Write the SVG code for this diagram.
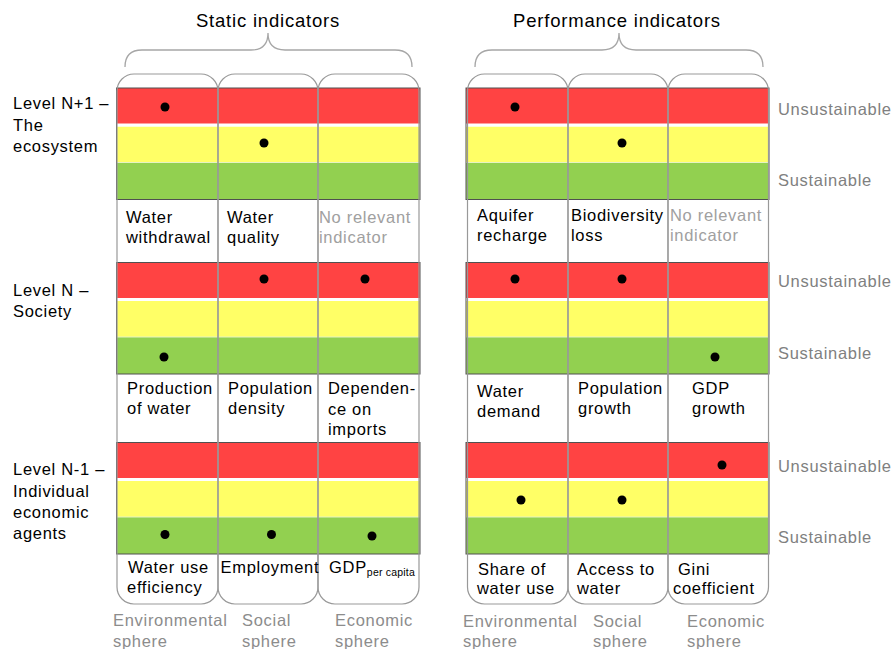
<svg xmlns="http://www.w3.org/2000/svg" width="896" height="649" viewBox="0 0 896 649">
<style>
text{font-family:"Liberation Sans",Arial,sans-serif;font-size:16.5px;letter-spacing:0.7px;fill:#000}
.title{font-size:18.5px;letter-spacing:0.8px;text-anchor:middle;fill:#000}
.na{fill:#a0a0a0}
.sus{fill:#808080}
.sph{fill:#8c8c8c}
.sub{font-size:10.5px;letter-spacing:0.2px}
.brace{fill:none;stroke:#a6a6a6;stroke-width:1.3}
.col{fill:none;stroke:#999;stroke-width:1.2}
.red{fill:#ff4343}
.yel{fill:#ffff66}
.grn{fill:#92d050}
.frame{fill:none;stroke:#505050;stroke-width:1}
.gap{stroke:#fff;stroke-width:3}
.gap2{stroke:#e4f2c4;stroke-width:1}
.dot{fill:#000}
</style>
<defs>
<g id="bandsL">
<rect class="red" x="116.5" y="0" width="303.5" height="36"/>
<rect class="yel" x="116.5" y="38.5" width="303.5" height="36"/>
<rect class="grn" x="116.5" y="74.5" width="303.5" height="37"/>
<line class="gap" x1="116.5" y1="37" x2="420" y2="37"/>
<line class="gap2" x1="116.5" y1="74.5" x2="420" y2="74.5"/>
<rect class="frame" x="116.5" y="0" width="303.5" height="111.5"/>
</g>
<g id="bandsR">
<rect class="red" x="466" y="0" width="303" height="36"/>
<rect class="yel" x="466" y="38.5" width="303" height="36"/>
<rect class="grn" x="466" y="74.5" width="303" height="37"/>
<line class="gap" x1="466" y1="37" x2="769" y2="37"/>
<line class="gap2" x1="466" y1="74.5" x2="769" y2="74.5"/>
<rect class="frame" x="466" y="0" width="303" height="111.5"/>
</g>
</defs>

<g id="titles">
<text class="title" x="268" y="27">Static indicators</text>
<text class="title" x="617" y="27">Performance indicators</text>
</g>

<g id="connectors">
<path class="brace" d="M125,67 Q125,50 142,50 L251,50 Q268,50 268,33 Q268,50 285,50 L395,50 Q412,50 412,67"/>
<path class="brace" d="M475,67 Q475,50 492,50 L602,50 Q619,50 619,33 Q619,50 636,50 L746,50 Q763,50 763,67"/>
</g>

<g id="bands">
<use href="#bandsL" y="88"/>
<use href="#bandsL" y="262.5"/>
<use href="#bandsL" y="442.5"/>
<use href="#bandsR" y="88"/>
<use href="#bandsR" y="262.5"/>
<use href="#bandsR" y="442.5"/>
</g>

<g id="columns">
<rect id="col-static-env" class="col" x="117" y="74" width="101" height="530" rx="17"/>
<rect id="col-static-soc" class="col" x="218" y="74" width="100" height="530" rx="17"/>
<rect id="col-static-eco" class="col" x="318" y="74" width="101" height="530" rx="17"/>
<rect id="col-perf-env" class="col" x="467.5" y="74" width="100.5" height="530" rx="17"/>
<rect id="col-perf-soc" class="col" x="568" y="74" width="100" height="530" rx="17"/>
<rect id="col-perf-eco" class="col" x="668" y="74" width="100.5" height="530" rx="17"/>
</g>

<g id="dots">
<circle class="dot" cx="165" cy="107" r="4.5"/>
<circle class="dot" cx="264" cy="143" r="4.5"/>
<circle class="dot" cx="515" cy="107" r="4.5"/>
<circle class="dot" cx="622" cy="143" r="4.5"/>
<circle class="dot" cx="264" cy="279" r="4.5"/>
<circle class="dot" cx="365" cy="279" r="4.5"/>
<circle class="dot" cx="164" cy="357" r="4.5"/>
<circle class="dot" cx="515" cy="279" r="4.5"/>
<circle class="dot" cx="622" cy="279" r="4.5"/>
<circle class="dot" cx="715" cy="357" r="4.5"/>
<circle class="dot" cx="165" cy="534.5" r="4.5"/>
<circle class="dot" cx="271.5" cy="534.5" r="4.5"/>
<circle class="dot" cx="372" cy="536" r="4.5"/>
<circle class="dot" cx="722" cy="465" r="4.5"/>
<circle class="dot" cx="521" cy="500" r="4.5"/>
<circle class="dot" cx="622" cy="500" r="4.5"/>
</g>

<g id="level-labels">
<text x="13" y="109">Level N+1 –</text>
<text x="13" y="131">The</text>
<text x="13" y="152">ecosystem</text>
<text x="13" y="296">Level N –</text>
<text x="13" y="317">Society</text>
<text x="13" y="475">Level N-1 –</text>
<text x="13" y="497">Individual</text>
<text x="13" y="518">economic</text>
<text x="13" y="539">agents</text>
</g>

<g id="scale-labels">
<text class="sus" x="778" y="115">Unsustainable</text>
<text class="sus" x="778" y="186">Sustainable</text>
<text class="sus" x="778" y="287">Unsustainable</text>
<text class="sus" x="778" y="359">Sustainable</text>
<text class="sus" x="778" y="472">Unsustainable</text>
<text class="sus" x="778" y="543">Sustainable</text>
</g>

<g id="indicators-level1">
<text x="126" y="223">Water</text>
<text x="126" y="243">withdrawal</text>
<text x="227" y="223">Water</text>
<text x="227" y="243">quality</text>
<text class="na" x="319" y="223">No relevant</text>
<text class="na" x="319" y="243">indicator</text>
<text x="477" y="221">Aquifer</text>
<text x="477" y="241">recharge</text>
<text x="571" y="221">Biodiversity</text>
<text x="571" y="241">loss</text>
<text class="na" x="670" y="221">No relevant</text>
<text class="na" x="670" y="241">indicator</text>
</g>

<g id="indicators-level2">
<text x="127" y="394">Production</text>
<text x="127" y="414">of water</text>
<text x="228" y="394">Population</text>
<text x="228" y="414">density</text>
<text x="328" y="394">Dependen-</text>
<text x="328" y="415">ce on</text>
<text x="328" y="435">imports</text>
<text x="477" y="397">Water</text>
<text x="477" y="417">demand</text>
<text x="578" y="394">Population</text>
<text x="578" y="414">growth</text>
<text x="692" y="394">GDP</text>
<text x="692" y="414">growth</text>
</g>

<g id="indicators-level3">
<text x="128" y="573">Water use</text>
<text x="127" y="593">efficiency</text>
<text x="220.5" y="573">Employment</text>
<text x="329" y="573">GDP<tspan class="sub" dy="3">per capita</tspan></text>
<text x="478" y="575">Share of</text>
<text x="477" y="594">water use</text>
<text x="577" y="575">Access to</text>
<text x="577" y="594">water</text>
<text x="678" y="575">Gini</text>
<text x="673" y="594">coefficient</text>
</g>

<g id="sphere-labels">
<text class="sph" x="113" y="626">Environmental</text>
<text class="sph" x="113" y="647">sphere</text>
<text class="sph" x="242" y="626">Social</text>
<text class="sph" x="242" y="647">sphere</text>
<text class="sph" x="335" y="626">Economic</text>
<text class="sph" x="335" y="647">sphere</text>
<text class="sph" x="463" y="627">Environmental</text>
<text class="sph" x="463" y="647">sphere</text>
<text class="sph" x="593" y="627">Social</text>
<text class="sph" x="593" y="647">sphere</text>
<text class="sph" x="687" y="627">Economic</text>
<text class="sph" x="687" y="647">sphere</text>
</g>
</svg>
